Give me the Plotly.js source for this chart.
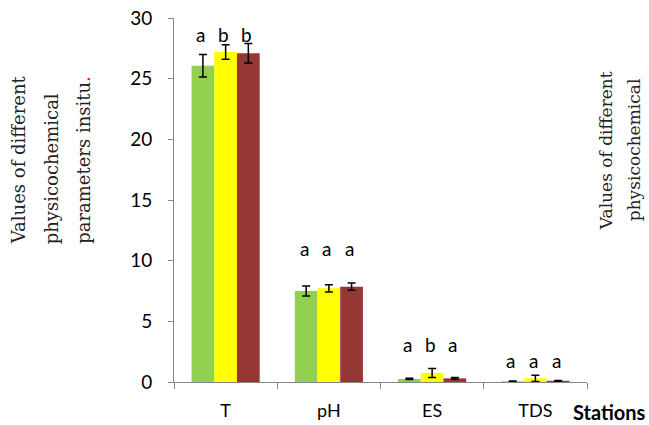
<!DOCTYPE html>
<html><head><meta charset="utf-8">
<script src="https://cdn.plot.ly/plotly-3.0.1.min.js"></script>
<style>body{margin:0;background:#fff}#c{width:649px;height:425px}</style>
</head><body><div id="c"></div>
<script>
var categories = ["T", "pH", "ES", "TDS"];
var s1 = [26.07, 7.5, 0.25, 0.05];
var s1err = [0.93, 0.41, 0.05, 0.03];
var s2 = [27.2, 7.72, 0.75, 0.3];
var s2err = [0.6, 0.3, 0.37, 0.25];
var s3 = [27.1, 7.86, 0.3, 0.1];
var s3err = [0.8, 0.3, 0.08, 0.03];
var letters1 = ["a", "a", "a", "a"];
var letters2 = ["b", "a", "b", "a"];
var letters3 = ["b", "a", "a", "a"];
var letterY = [28.6, 11.0, 3.05, 1.8];
var yTitleLines = ["Values of different", "physicochemical", "parameters insitu<span style=\"color:red\">.</span>"];
var rightTitleLines = ["Values of different", "physicochemical"];

function tr(y, e, color){
  return {type:'bar', x:categories, y:y, marker:{color:color},
    error_y:{type:'data', array:e, visible:true, color:'#000', thickness:1.5, width:4},
    hoverinfo:'none', showlegend:false};
}
var data = [tr(s1,s1err,'#92D050'), tr(s2,s2err,'#FFFF00'), tr(s3,s3err,'#953735')];
var ann = [];
var shifts = [-22.7, 0, 22.7];
var L = [letters1, letters2, letters3];
for (var k=0;k<3;k++) for (var i=0;i<categories.length;i++){
  ann.push({x:categories[i], y:letterY[i], xref:'x', yref:'y', text:L[k][i], showarrow:false,
    xshift:shifts[k]-2, font:{family:'Lato, sans-serif', size:19, color:'#000'}});
}
ann.push({xref:'paper', yref:'paper', x:1.0, y:-0.082, xanchor:'left', yanchor:'middle', xshift:-16,
  text:'<b>Stations</b>', showarrow:false, font:{family:'Lato, sans-serif', size:20, color:'#000'}});
var lx = [-0.378, -0.298, -0.218];
for (var j=0;j<yTitleLines.length;j++){
  ann.push({xref:'paper', yref:'paper', x:lx[j], y:0.374, xanchor:'center', yanchor:'bottom',
    text:yTitleLines[j], textangle:-90, showarrow:false,
    font:{family:'"DejaVu Serif", serif', size:18, color:'#222'}});
}
var rx = [1.046, 1.114];
for (var j=0;j<rightTitleLines.length;j++){
  ann.push({xref:'paper', yref:'paper', x:rx[j], y:0.637, xanchor:'center', yanchor:'middle',
    text:rightTitleLines[j], textangle:-90, showarrow:false,
    font:{family:'"DejaVu Serif", serif', size:17, color:'#222'}});
}
var layout = {
  width:649, height:425,
  margin:{l:174, r:62, t:18, b:43},
  paper_bgcolor:'#fff', plot_bgcolor:'#fff',
  barmode:'group', bargap:0.34, bargroupgap:0,
  font:{family:'Lato, sans-serif', size:15, color:'#000'},
  xaxis:{type:'category', showline:true, linecolor:'#868686', linewidth:1, ticks:'outside', tickson:'boundaries',
    ticklen:6, tickcolor:'#868686', showgrid:false, tickfont:{size:18}, ticklabelstandoff:12},
  yaxis:{range:[0,30], dtick:5, showline:true, linecolor:'#868686', linewidth:1, ticks:'outside', ticklen:5,
    tickcolor:'#868686', showgrid:false, zeroline:false, tickfont:{size:19}, ticklabelstandoff:12},
  annotations:ann
};
Plotly.newPlot('c', data, layout, {displayModeBar:false, staticPlot:true});
</script></body></html>
